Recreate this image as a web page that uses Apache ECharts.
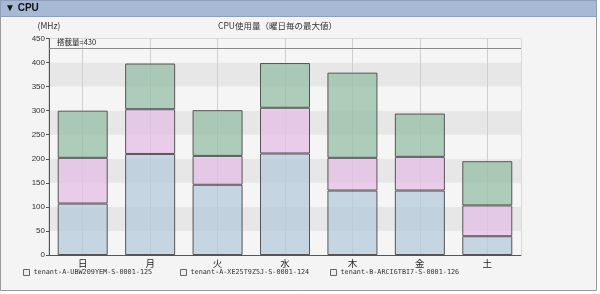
<!DOCTYPE html>
<html>
<head>
<meta charset="utf-8">
<script src="https://cdn.jsdelivr.net/npm/echarts@6/dist/echarts.min.js"></script>
<style>
html,body{margin:0;padding:0;background:#ffffff;}
#chart{width:600px;height:294px;}
</style>
</head>
<body>
<div id="chart"></div>
<script>
const days = ['日','月','火','水','木','金','土'];
const seriesNames = ['tenant-A-UBW209YEM-S-0001-125','tenant-A-XE25T9Z5J-S-0001-124','tenant-B-ARCI6TBI7-S-0001-126'];
const valuesA = [107, 210, 146, 211, 134, 134, 39];
const valuesB = [95, 93, 60, 95, 68, 70, 64];
const valuesC = [98, 95, 95, 93, 177, 90, 92];
const capacity = 430;
const capacityLabel = '搭載量=' + capacity;
const chartTitle = 'CPU使用量（曜日毎の最大値）';
const panelTitle = '▼ CPU';
const unitLabel = '(MHz)';

const fills = ['rgba(180,202,218,0.75)','rgba(228,190,228,0.75)','rgba(150,190,165,0.75)'];
const seriesValues = [valuesA, valuesB, valuesC];

const chart = echarts.init(document.getElementById('chart'), null, {renderer:'canvas'});
const sans = '"Liberation Sans", Arial, sans-serif';
const cjk = '"Noto Sans CJK JP", "Liberation Sans", sans-serif';
const mono = '"DejaVu Sans Mono", "Liberation Mono", monospace';

const series = seriesNames.map((n, i) => {
  const s = {
    name: n,
    type: 'bar',
    stack: 'total',
    data: seriesValues[i],
    barWidth: 50,
    itemStyle: {color: fills[i], borderColor: '#555', borderWidth: 1},
    emphasis: {disabled: true}
  };
  if (i === 0) {
    s.markLine = {
      silent: true,
      symbol: 'none',
      lineStyle: {color: '#8a8a8a', width: 1, type: 'solid'},
      label: {position: 'insideStartTop', formatter: capacityLabel, color: '#222', fontSize: 7.5, fontFamily: cjk, distance: [8, 2]},
      data: [{yAxis: capacity}]
    };
  }
  return s;
});

const legendXs = [23, 180, 330];
const legends = seriesNames.map((n, i) => ({
  data: [n],
  left: legendXs[i],
  top: 269,
  icon: 'rect',
  itemWidth: 6,
  itemHeight: 6,
  padding: 0,
  selectedMode: false,
  itemStyle: {color: '#eeeeee', borderColor: '#666', borderWidth: 1},
  textStyle: {fontFamily: mono, fontSize: 6.8, color: '#333', padding: [0,0,0,-1]}
}));

chart.setOption({
  animation: false,
  backgroundColor: '#ffffff',
  graphic: [
    {type:'rect', z:-10, shape:{x:0.5, y:0.5, width:596, height:290}, style:{fill:'#f4f4f4', stroke:'#9a9a9a', lineWidth:1}},
    {type:'rect', z:-9, shape:{x:0.5, y:0.5, width:596, height:16}, style:{fill:'#a6bad6', stroke:'#8f9fbb', lineWidth:1}},
    {type:'text', z:-8, left:5, top:3, style:{text: panelTitle, font:'bold 10px ' + sans, fill:'#111'}}
  ],
  title: {
    text: chartTitle,
    left: 218, top: 22, padding: 0,
    textStyle: {fontFamily: cjk, fontSize: 8.5, fontWeight: 'normal', color: '#333'}
  },
  legend: legends,
  grid: {left: 49, right: 79, top: 38.5, bottom: 39, show: true, borderColor: '#bdbdbd', borderWidth: 1, backgroundColor: 'transparent', containLabel: false},
  xAxis: {
    type: 'category',
    data: days,
    axisLine: {lineStyle: {color: '#555'}},
    axisTick: {alignWithLabel: true, length: 3, lineStyle: {color: '#555'}},
    axisLabel: {fontFamily: cjk, fontSize: 9.5, color: '#222', margin: 4},
    splitLine: {show: true, alignWithLabel: true, lineStyle: {color: '#cfcfcf', width: 1}}
  },
  yAxis: {
    type: 'value',
    min: 0, max: 450, interval: 50,
    name: unitLabel,
    nameLocation: 'end',
    nameGap: 8,
    nameTextStyle: {fontFamily: cjk, fontSize: 8.5, color: '#333', align: 'center'},
    axisLine: {show: true, lineStyle: {color: '#555'}},
    axisTick: {show: true, length: 3, lineStyle: {color: '#555'}},
    axisLabel: {fontFamily: sans, fontSize: 8, color: '#333', margin: 4},
    splitLine: {show: false},
    splitArea: {show: true, areaStyle: {color: ['#f5f5f5', '#e7e7e7']}}
  },
  series: series
});
</script>
</body>
</html>
